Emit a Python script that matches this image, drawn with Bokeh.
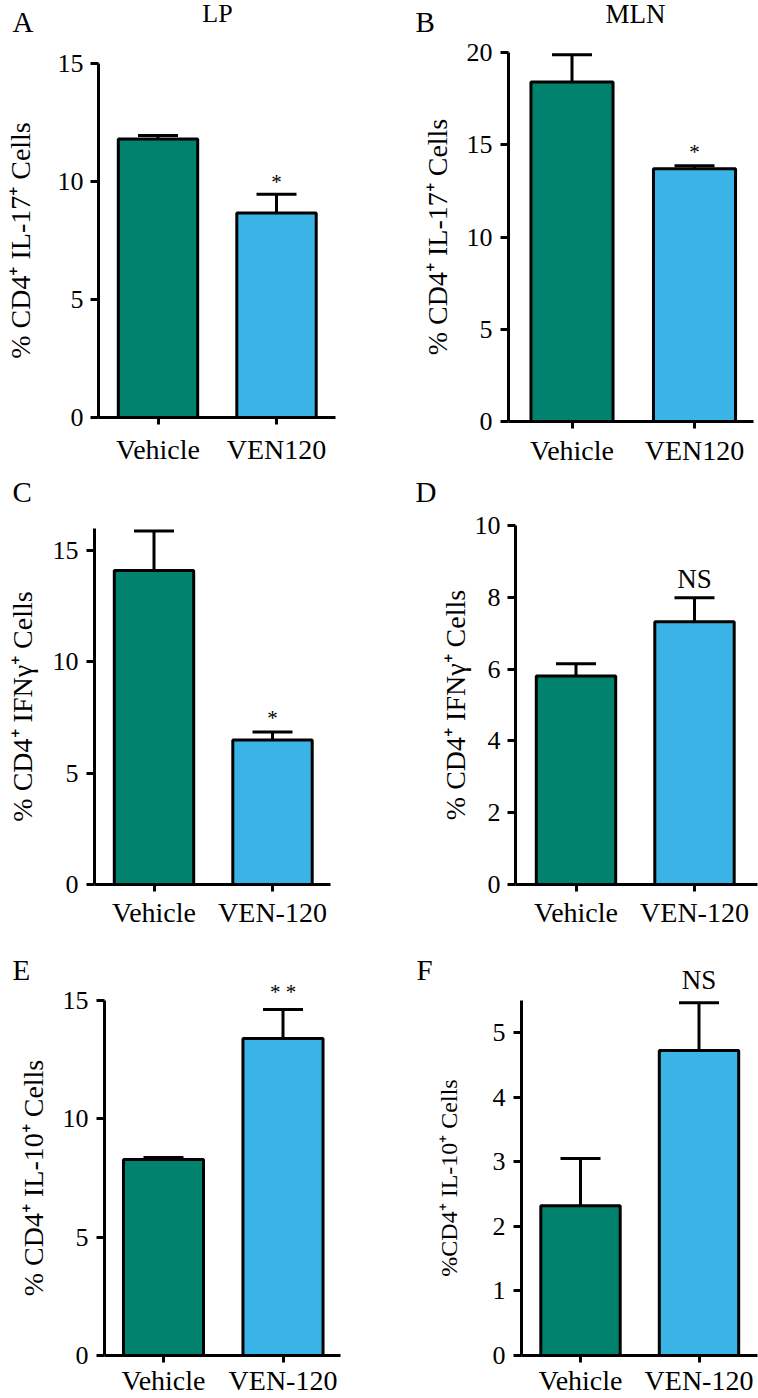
from bokeh.plotting import figure
from bokeh.layouts import column, row
from bokeh.models import Range1d, FixedTicker, Whisker, TeeHead, ColumnDataSource, LinearAxis
from bokeh.core.properties import value
from bokeh.embed import file_html
from bokeh.resources import INLINE

FONT = "Liberation Serif"
VEH_COLOR = "#00826F"
VEN_COLOR = "#3AB4E6"
BASELINE_FIX = 0.35   # measured: alphabetic text lands ~0.35 em low in the svg output

# ---------------- data ----------------
cats_ab = ["Vehicle", "VEN120"]
cats_cf = ["Vehicle", "VEN-120"]

lp_il17_mean = [11.8, 8.66]
lp_il17_sem = [0.15, 0.80]
lp_il17_sig = ["", "*"]

mln_il17_mean = [18.4, 13.7]
mln_il17_sem = [1.48, 0.16]
mln_il17_sig = ["", "*"]

lp_ifng_mean = [14.1, 6.49]
lp_ifng_sem = [1.78, 0.36]
lp_ifng_sig = ["", "*"]

mln_ifng_mean = [5.81, 7.32]
mln_ifng_sem = [0.34, 0.67]
mln_ifng_sig = ["", "NS"]

lp_il10_mean = [8.28, 13.39]
lp_il10_sem = [0.09, 1.23]
lp_il10_sig = ["", "* *"]

mln_il10_mean = [2.32, 4.72]
mln_il10_sem = [0.73, 0.74]
mln_il10_sig = ["", "NS"]

ylabel_il17 = "% CD4\u207a IL-17\u207a Cells"
ylabel_ifng = "% CD4\u207a IFN\u03b3\u207a Cells"
ylabel_il10 = "% CD4\u207a IL-10\u207a Cells"
ylabel_il10_f = "%CD4\u207a IL-10\u207a Cells"

# ---------------- layout (page pixels) ----------------
# cell = (x0, y0, w, h); axes = (y-axis x, x-axis right end, x-axis y); tickref = (value, px)
panels = [
    dict(letter="A", title="LP", cats=cats_ab, mean=lp_il17_mean, sem=lp_il17_sem, sig=lp_il17_sig,
         ylabel=ylabel_il17, ybound=15, yticks=[0, 5, 10, 15], tickref=(15, 63),
         cell=(0, 0, 380, 468), axes=(98, 335, 417), centers=(157.5, 276),
         xs=9, ls=7, als=19, sigpx=5, sigsize=21, ylsize="28px",
         letter_pos=(12, 32), title_pos=(217, 22), title_size=26),
    dict(letter="B", title="MLN", cats=cats_ab, mean=mln_il17_mean, sem=mln_il17_sem, sig=mln_il17_sig,
         ylabel=ylabel_il17, ybound=20, yticks=[0, 5, 10, 15, 20], tickref=(20, 52),
         cell=(380, 0, 378, 468), axes=(508, 753, 421), centers=(571.5, 694),
         xs=6, ls=8, als=11, sigpx=6, sigsize=21, ylsize="28px",
         letter_pos=(415, 32), title_pos=(635, 23), title_size=27),
    dict(letter="C", title=None, cats=cats_cf, mean=lp_ifng_mean, sem=lp_ifng_sem, sig=lp_ifng_sig,
         ylabel=ylabel_ifng, ybound=16, yticks=[0, 5, 10, 15], tickref=(15, 550),
         cell=(0, 468, 380, 462), axes=(94, 330, 884), centers=(153.5, 272),
         xs=5, ls=8, als=12, sigpx=7, sigsize=21, ylsize="28px",
         letter_pos=(12, 502), title_pos=None, title_size=None),
    dict(letter="D", title=None, cats=cats_cf, mean=mln_ifng_mean, sem=mln_ifng_sem, sig=mln_ifng_sig,
         ylabel=ylabel_ifng, ybound=10, yticks=[0, 2, 4, 6, 8, 10], tickref=(10, 525),
         cell=(380, 468, 378, 462), axes=(515, 757, 884), centers=(575.5, 694),
         xs=5, ls=7, als=1, sigpx=9, sigsize=27, ylsize="28px",
         letter_pos=(415, 502), title_pos=None, title_size=None),
    dict(letter="E", title=None, cats=cats_cf, mean=lp_il10_mean, sem=lp_il10_sem, sig=lp_il10_sig,
         ylabel=ylabel_il10, ybound=15, yticks=[0, 5, 10, 15], tickref=(15, 1000),
         cell=(0, 930, 380, 468), axes=(104, 340, 1355), centers=(163, 282.5),
         xs=2, ls=8, als=11, sigpx=10, sigsize=21, ylsize="28px",
         letter_pos=(12, 980), title_pos=None, title_size=None),
    dict(letter="F", title=None, cats=cats_cf, mean=mln_il10_mean, sem=mln_il10_sem, sig=mln_il10_sig,
         ylabel=ylabel_il10_f, ybound=5.5, yticks=[0, 1, 2, 3, 4, 5], tickref=(5, 1032),
         cell=(380, 930, 378, 468), axes=(521, 757, 1355), centers=(580, 698.5),
         xs=2, ls=8, als=28, sigpx=13, sigsize=27, ylsize="24px",
         letter_pos=(416, 980), title_pos=None, title_size=None),
]

BAR_W = 0.67
LETTER_SIZE = 29


def make_panel(cfg):
    x0, y0, w, h = cfg["cell"]
    axx, axr, axy = cfg["axes"]
    c0, c1 = cfg["centers"]
    unit = c1 - c0                                   # px per category step
    tval, tpx = cfg["tickref"]
    ppu = (axy - tpx) / tval                         # px per y unit

    def x_at(px):
        return (px - c0) / unit

    def y_at(py):
        return (axy - py) / ppu

    xs = list(range(len(cfg["cats"])))
    upper = [m + s for m, s in zip(cfg["mean"], cfg["sem"])]
    src = ColumnDataSource(dict(x=xs, top=cfg["mean"], upper=upper,
                                color=[VEH_COLOR, VEN_COLOR]))

    # the frame covers the whole cell; axes are pinned at their data locations
    p = figure(width=w, height=h, output_backend="svg", toolbar_location=None,
               x_range=Range1d(x_at(x0), x_at(x0 + w)), y_range=Range1d(y_at(y0 + h), y_at(y0)),
               x_axis_location=None, y_axis_location=None, title_location=None, min_border=0)
    p.min_border_left = p.min_border_right = p.min_border_top = p.min_border_bottom = 0
    p.outline_line_color = None
    p.background_fill_color = "white"
    p.border_fill_color = "white"
    p.grid.visible = False

    p.vbar(x="x", top="top", bottom=0, width=BAR_W, source=src,
           fill_color="color", line_color="black", line_width=3)
    p.add_layout(Whisker(base="x", upper="upper", lower="top", source=src, dimension="height",
                         line_color="black", line_width=3,
                         upper_head=TeeHead(size=40, line_color="black", line_width=3),
                         lower_head=None))

    # significance marks, a few pixels above each error bar
    lift = cfg["sigpx"] + BASELINE_FIX * cfg["sigsize"]
    sig_x = [xi for xi, sg in zip(xs, cfg["sig"]) if sg]
    sig_y = [up + lift / ppu for up, sg in zip(upper, cfg["sig"]) if sg]
    sig_t = [sg for sg in cfg["sig"] if sg]
    p.text(x=sig_x, y=sig_y, text=sig_t, text_font=value(FONT),
           text_font_size="%dpx" % cfg["sigsize"],
           text_align="center", text_baseline="alphabetic", text_color="black")

    # panel letter and column title
    lx, ly = cfg["letter_pos"]
    p.text(x=[x_at(lx)], y=[y_at(ly - BASELINE_FIX * LETTER_SIZE)], text=[cfg["letter"]],
           text_font=value(FONT), text_font_size="%dpx" % LETTER_SIZE, text_align="left",
           text_baseline="alphabetic", text_color="black")
    if cfg["title"]:
        tx, ty = cfg["title_pos"]
        p.text(x=[x_at(tx)], y=[y_at(ty - BASELINE_FIX * cfg["title_size"])], text=[cfg["title"]],
               text_font=value(FONT), text_font_size="%dpx" % cfg["title_size"],
               text_align="center", text_baseline="alphabetic", text_color="black")

    # x axis
    xa = LinearAxis(fixed_location=0, bounds=(x_at(axx), x_at(axr)),
                    ticker=FixedTicker(ticks=xs),
                    major_label_overrides={i: c for i, c in enumerate(cfg["cats"])},
                    minor_tick_line_color=None, major_tick_in=0, major_tick_out=7,
                    major_tick_line_width=3, axis_line_width=3,
                    major_label_text_font=FONT, major_label_text_font_size="28px",
                    major_label_text_color="black", major_label_standoff=cfg["xs"])
    p.add_layout(xa, "below")

    # y axis
    ya = LinearAxis(fixed_location=x_at(axx), bounds=(0, cfg["ybound"]),
                    ticker=FixedTicker(ticks=cfg["yticks"]),
                    minor_tick_line_color=None, major_tick_in=0, major_tick_out=8,
                    major_tick_line_width=3, axis_line_width=3,
                    major_label_text_font=FONT, major_label_text_font_size="26px",
                    major_label_text_color="black", major_label_standoff=cfg["ls"],
                    axis_label=cfg["ylabel"], axis_label_text_font=FONT,
                    axis_label_text_font_style="normal", axis_label_text_font_size=cfg["ylsize"],
                    axis_label_text_color="black", axis_label_standoff=cfg["als"])
    p.add_layout(ya, "left")
    return p


figs = [make_panel(c) for c in panels]
layout = column(row(figs[0], figs[1]), row(figs[2], figs[3]), row(figs[4], figs[5]))

open("out.html", "w").write(file_html(layout, INLINE))
